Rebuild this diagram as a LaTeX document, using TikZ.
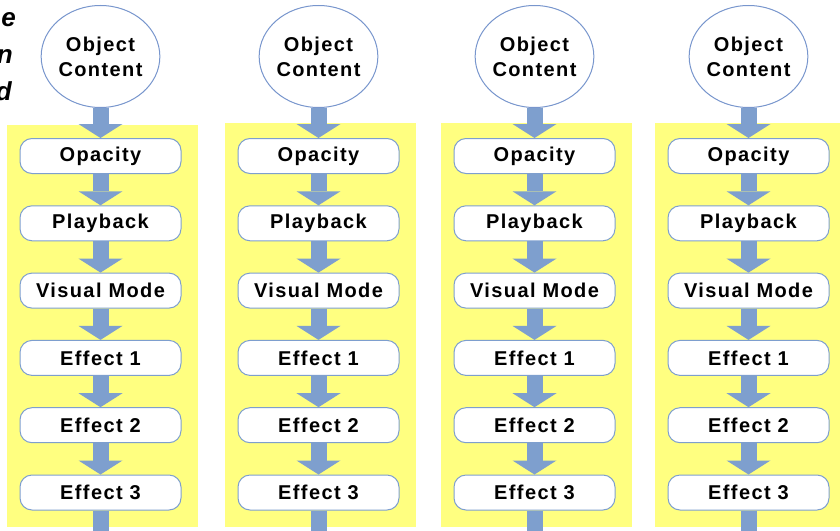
\documentclass[tikz,border=0pt]{standalone}
\usepackage{fontspec}
\setmainfont{Liberation Sans}
\newfontfamily\boxfont[LetterSpace=7]{Liberation Sans}
\usetikzlibrary{shapes.geometric,arrows.meta}

\definecolor{panelyellow}{RGB}{255,255,128}
\definecolor{flowblue}{RGB}{126,159,206}
\definecolor{edgeblue}{RGB}{120,150,205}

\tikzset{
    layerbox/.style={draw=flowblue, fill=white, line width=1pt, rounded corners=12pt,
        minimum width=161pt, minimum height=35pt, inner sep=0pt,
        font=\boxfont\bfseries\fontsize{20}{24}\selectfont},
    source/.style={ellipse, draw=edgeblue, fill=white, line width=1pt,
        minimum width=112pt, minimum height=102pt, inner sep=0pt, align=center,
        font=\boxfont\bfseries\fontsize{20}{25}\selectfont},
    flow/.style={draw=flowblue, line width=16pt,
        -{Triangle[width=44pt,length=14pt,line width=0pt]}},
    flowtail/.style={draw=flowblue, line width=16pt},
    cutword/.style={anchor=base east, inner sep=0pt,
        font=\bfseries\itshape\fontsize{26}{30}\selectfont}
}

\begin{document}
\begin{tikzpicture}[x=1pt, y=-1pt]
    % 画布大小 840x530
    \useasboundingbox (0,0) rectangle (840,530);

    % 左上角被截断的文字
    \node[cutword] (cuta) at (16,27) {e};
    \node[cutword] (cutb) at (13,63) {n};
    \node[cutword] (cutc) at (12,100) {d};

    % 四列：中心x/黄色底的上沿/编号
    \foreach \cx/\ytop/\i in {100.5/125/1, 318.5/123/2, 534.5/123/3, 748.5/123/4} {
        \begin{scope}[xshift=\cx pt]
            % 1. 黄色底板
            \fill[panelyellow] (-93.5,\ytop) rectangle (97.5,527);

            % 2. 顶部的对象内容
            \node[source] (obj\i) at (0,56.5) {Object\\Content};

            % 3. 六个处理层
            \foreach \lbl [count=\k] in {Opacity, Playback, Visual Mode, Effect 1, Effect 2, Effect 3} {
                \pgfmathsetmacro{\ypos}{156+67.3*(\k-1)}
                \node[layerbox] (box\i-\k) at (0,\ypos) {\lbl};
            }

            % 4. 箭头
            \draw[flow] (obj\i.south) -- (box\i-1.north);
            \foreach \k [evaluate=\k as \prev using int(\k-1)] in {2,...,6}
                \draw[flow] (box\i-\prev.south) -- (box\i-\k.north);
            \coordinate (tail\i) at (0,531);
            \draw[flowtail] (box\i-6.south) -- (tail\i);
        \end{scope}
    }
\end{tikzpicture}
\end{document}
